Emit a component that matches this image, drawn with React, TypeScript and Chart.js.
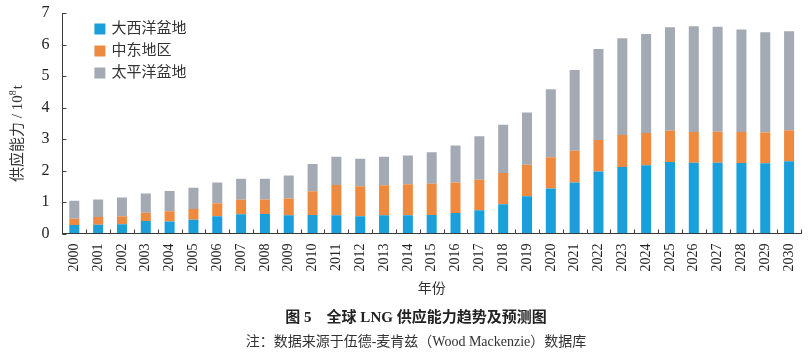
import React, { useEffect, useRef } from "react";
import { Chart, registerables } from "chart.js";

Chart.register(...registerables);

const years = [
  "2000", "2001", "2002", "2003", "2004", "2005", "2006", "2007", "2008", "2009",
  "2010", "2011", "2012", "2013", "2014", "2015", "2016", "2017", "2018", "2019",
  "2020", "2021", "2022", "2023", "2024", "2025", "2026", "2027", "2028", "2029", "2030",
];
const seriesNames = ["大西洋盆地", "中东地区", "太平洋盆地"];
const atlantic = [
  0.27, 0.28, 0.29, 0.40, 0.38, 0.44, 0.55, 0.61, 0.62, 0.58,
  0.59, 0.58, 0.55, 0.58, 0.58, 0.59, 0.65, 0.74, 0.93, 1.18,
  1.43, 1.62, 1.97, 2.11, 2.17, 2.27, 2.25, 2.25, 2.24, 2.23, 2.29,
];
const middleEast = [
  0.20, 0.24, 0.26, 0.26, 0.33, 0.34, 0.41, 0.46, 0.46, 0.53,
  0.75, 0.96, 0.95, 0.95, 0.98, 0.99, 0.97, 0.97, 0.99, 1.00,
  0.99, 1.01, 1.00, 1.02, 1.02, 0.99, 0.97, 0.98, 0.98, 0.98, 0.99,
];
const pacific = [
  0.57, 0.56, 0.59, 0.61, 0.64, 0.67, 0.66, 0.67, 0.66, 0.73,
  0.87, 0.90, 0.87, 0.91, 0.92, 1.00, 1.17, 1.38, 1.53, 1.66,
  2.16, 2.56, 2.89, 3.07, 3.14, 3.29, 3.36, 3.33, 3.26, 3.18, 3.14,
];
const yTitleMain = "供应能力 / 10";
const yTitleSup = "8";
const yTitleUnit = "t";
const xTitle = "年份";
const caption = "图 5　全球 LNG 供应能力趋势及预测图";
const note = "注：数据来源于伍德-麦肯兹（Wood Mackenzie）数据库";

const colors = ["#1a9fdb", "#ed8a3f", "#a3aab3"];
const FONT = "'Liberation Serif', 'Noto Sans CJK SC', serif";
const AXIS = "#3a3a3a";

const innerTicksAndLegend = {
  id: "innerTicksAndLegend",
  afterDraw(chart: any) {
    const { ctx, chartArea, scales } = chart;
    const x = scales.x;
    const y = scales.y;
    ctx.save();
    ctx.strokeStyle = AXIS;
    ctx.lineWidth = 1;
    y.ticks.forEach((t: any) => {
      const py = Math.round(y.getPixelForValue(t.value)) + 0.5;
      ctx.beginPath();
      ctx.moveTo(chartArea.left, py);
      ctx.lineTo(chartArea.left + 4, py);
      ctx.stroke();
    });
    const n = chart.data.labels.length;
    for (let i = 1; i <= n; i++) {
      const px = Math.round((x.getPixelForValue(i - 1) + x.getPixelForValue(i)) / 2) + 0.5;
      if (px > chartArea.right + 1) continue;
      ctx.beginPath();
      ctx.moveTo(px, chartArea.bottom);
      ctx.lineTo(px, chartArea.bottom - 4);
      ctx.stroke();
    }
    // legend
    const lx = chartArea.left + 32;
    let ly = chartArea.top + 16;
    ctx.font = "15px " + FONT;
    ctx.textBaseline = "middle";
    ctx.textAlign = "left";
    chart.data.datasets.forEach((ds: any) => {
      ctx.fillStyle = ds.backgroundColor;
      ctx.fillRect(lx, ly - 5.5, 11, 11);
      ctx.fillStyle = "#333";
      ctx.fillText(ds.label, lx + 17, ly);
      ly += 22;
    });
    // y axis title with superscript
    ctx.save();
    ctx.translate(18, 134);
    ctx.rotate(-Math.PI / 2);
    ctx.fillStyle = "#333";
    ctx.font = "15px " + FONT;
    const w1 = ctx.measureText(yTitleMain).width;
    ctx.font = "10px " + FONT;
    const w2 = ctx.measureText(yTitleSup).width;
    ctx.font = "15px " + FONT;
    const w3 = ctx.measureText(yTitleUnit).width;
    let sx = -(w1 + w2 + w3) / 2;
    ctx.textAlign = "left";
    ctx.fillText(yTitleMain, sx, 0);
    sx += w1;
    ctx.font = "10px " + FONT;
    ctx.fillText(yTitleSup, sx, -5);
    sx += w2;
    ctx.font = "15px " + FONT;
    ctx.fillText(yTitleUnit, sx + 1, 0);
    ctx.restore();
    // caption and note
    ctx.textAlign = "center";
    ctx.fillStyle = "#222";
    ctx.font = "bold 15px " + FONT;
    ctx.fillText(caption, 416, 318);
    ctx.font = "14px " + FONT;
    ctx.fillStyle = "#333";
    ctx.fillText(note, 416, 342);
    ctx.restore();
  },
};

export default function App() {
  const ref = useRef<HTMLCanvasElement | null>(null);
  useEffect(() => {
    if (!ref.current) return;
    const chart = new Chart(ref.current, {
      type: "bar",
      data: {
        labels: years,
        datasets: [
          { label: seriesNames[0], data: atlantic, backgroundColor: colors[0] },
          { label: seriesNames[1], data: middleEast, backgroundColor: colors[1] },
          { label: seriesNames[2], data: pacific, backgroundColor: colors[2] },
        ],
      },
      options: {
        animation: false,
        responsive: false,
        maintainAspectRatio: false,
        layout: { padding: { top: 13, right: 11, left: 0, bottom: 0 } },
        datasets: { bar: { barPercentage: 0.42, categoryPercentage: 1 } },
        plugins: {
          legend: { display: false },
          tooltip: { enabled: false },
        },
        scales: {
          x: {
            stacked: true,
            grid: { display: true, drawOnChartArea: false, drawTicks: false },
            border: { display: true, color: AXIS, width: 1 },
            ticks: {
              maxRotation: 90,
              minRotation: 90,
              padding: 10,
              color: "#222",
              font: { family: FONT, size: 14 },
            },
            title: {
              display: true,
              text: xTitle,
              color: "#333",
              font: { family: FONT, size: 14 },
              padding: { top: 0, bottom: 54 },
            },
            afterFit(scale: any) {
              scale.height = 352 - 233.5;
              scale.paddingLeft = 0;
              scale.paddingRight = 0;
            },
          },
          y: {
            stacked: true,
            min: 0,
            max: 7,
            grid: { display: true, drawOnChartArea: false, drawTicks: false },
            border: { display: true, color: AXIS, width: 1 },
            ticks: {
              stepSize: 1,
              padding: 13,
              color: "#222",
              font: { family: FONT, size: 16 },
            },
            afterFit(scale: any) {
              scale.width = 62.4;
              scale.paddingTop = 0;
              scale.paddingBottom = 0;
            },
          },
        },
      },
      plugins: [innerTicksAndLegend],
    });
    return () => chart.destroy();
  }, []);
  return (
    <div style={{ position: "absolute", left: 0, top: 0, width: 812, height: 352, background: "#fff" }}>
      <canvas ref={ref} width={812} height={352} style={{ width: 812, height: 352, display: "block" }} />
    </div>
  );
}
